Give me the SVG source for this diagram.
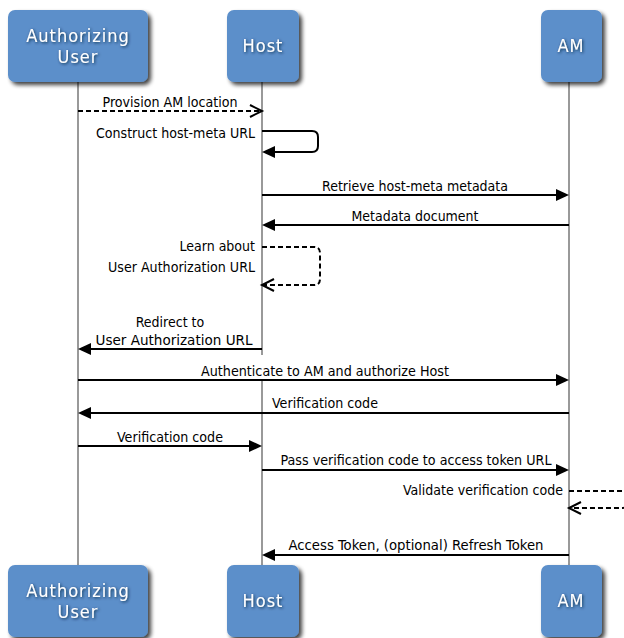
<svg xmlns="http://www.w3.org/2000/svg" width="624" height="638" viewBox="0 0 624 638">
<defs>
<style>
.box{fill:#5b8fca;filter:url(#boxShadow)}
.bt{fill:#ffffff;font-family:"DejaVu Sans Condensed","DejaVu Sans",sans-serif;font-size:18px;letter-spacing:1px;text-anchor:middle;filter:url(#textShadow)}
.life{stroke:#999999;stroke-width:2;fill:none}
.msg{stroke:#000000;stroke-width:2;fill:none}
.dash{stroke-dasharray:5,3}
.lbl{fill:#000000;font-family:"DejaVu Sans Condensed","DejaVu Sans",sans-serif;font-size:14px}
.mid{text-anchor:middle}
.end{text-anchor:end}
</style>
<filter id="boxShadow" x="-20%" y="-20%" width="150%" height="150%">
<feGaussianBlur in="SourceAlpha" stdDeviation="2" result="bl"/>
<feOffset in="bl" dx="3" dy="3" result="of"/>
<feComponentTransfer in="of" result="sh"><feFuncA type="linear" slope="0.75"/></feComponentTransfer>
<feMerge><feMergeNode in="sh"/><feMergeNode in="SourceGraphic"/></feMerge>
</filter>
<filter id="textShadow" x="-20%" y="-40%" width="140%" height="180%">
<feGaussianBlur in="SourceAlpha" stdDeviation="1.5" result="bl"/>
<feOffset in="bl" dx="1" dy="1" result="of"/>
<feFlood flood-color="#0d2540" flood-opacity="0.9" result="fc"/>
<feComposite in="fc" in2="of" operator="in" result="sh"/>
<feMerge><feMergeNode in="sh"/><feMergeNode in="SourceGraphic"/></feMerge>
</filter>
<marker id="fillArrow" markerUnits="userSpaceOnUse" markerWidth="14" markerHeight="14" refX="9" refY="6" orient="auto" overflow="visible">
<path d="M0,0 L13,6 L0,12 Z" fill="#000000" stroke="none"/>
</marker>
<marker id="openArrow" markerUnits="userSpaceOnUse" markerWidth="16" markerHeight="16" refX="13" refY="7" orient="auto" overflow="visible">
<path d="M1,1 L13,7 L1,13" fill="none" stroke="#000000" stroke-width="2" stroke-dasharray="none"/>
</marker>
</defs>
<rect width="624" height="638" fill="#ffffff"/>

<g id="lifelines">
<line class="life" x1="78" y1="82" x2="78" y2="565"/>
<line class="life" x1="262" y1="82" x2="262" y2="355"/>
<line class="life" x1="262" y1="381" x2="262" y2="565"/>
<line class="life" x1="569" y1="82" x2="569" y2="565"/>
</g>

<g id="user-top">
<rect class="box" x="8" y="10" width="140" height="72" rx="7"/>
<text class="bt" x="78" y="42">Authorizing</text>
<text class="bt" x="78" y="63">User</text>
</g>
<g id="host-top">
<rect class="box" x="227" y="10" width="72" height="72" rx="7"/>
<text class="bt" x="263" y="52">Host</text>
</g>
<g id="am-top">
<rect class="box" x="541" y="10" width="61" height="72" rx="7"/>
<text class="bt" x="571" y="52">AM</text>
</g>
<g id="user-bottom">
<rect class="box" x="8" y="565" width="140" height="72" rx="7"/>
<text class="bt" x="78" y="597">Authorizing</text>
<text class="bt" x="78" y="618">User</text>
</g>
<g id="host-bottom">
<rect class="box" x="227" y="565" width="72" height="72" rx="7"/>
<text class="bt" x="263" y="607">Host</text>
</g>
<g id="am-bottom">
<rect class="box" x="541" y="565" width="61" height="72" rx="7"/>
<text class="bt" x="571" y="607">AM</text>
</g>

<g id="connectors">
<line class="msg dash" x1="78" y1="111" x2="262" y2="111" marker-end="url(#openArrow)"/>
<path class="msg" d="M262,131 H312 Q318,131 318,137 V146 Q318,152 312,152 H266" marker-end="url(#fillArrow)"/>
<line class="msg" x1="262" y1="195" x2="565" y2="195" marker-end="url(#fillArrow)"/>
<line class="msg" x1="569" y1="225" x2="266" y2="225" marker-end="url(#fillArrow)"/>
<path class="msg dash" d="M262,247 H314 Q320,247 320,253 V279 Q320,285 314,285 H262" marker-end="url(#openArrow)"/>
<line class="msg" x1="262" y1="349" x2="82" y2="349" marker-end="url(#fillArrow)"/>
<line class="msg" x1="78" y1="380" x2="565" y2="380" marker-end="url(#fillArrow)"/>
<line class="msg" x1="569" y1="413" x2="82" y2="413" marker-end="url(#fillArrow)"/>
<line class="msg" x1="78" y1="446" x2="258" y2="446" marker-end="url(#fillArrow)"/>
<line class="msg" x1="262" y1="470" x2="565" y2="470" marker-end="url(#fillArrow)"/>
<path class="msg dash" d="M569,491 H622 Q628,491 628,497 V502 Q628,508 622,508 H569" marker-end="url(#openArrow)"/>
<line class="msg" x1="569" y1="555" x2="266" y2="555" marker-end="url(#fillArrow)"/>
</g>

<g id="labels">
<text class="lbl mid" x="170" y="107" textLength="135" lengthAdjust="spacingAndGlyphs">Provision AM location</text>
<text class="lbl end" x="255" y="138" textLength="159" lengthAdjust="spacingAndGlyphs">Construct host-meta URL</text>
<text class="lbl mid" x="415" y="191" textLength="186" lengthAdjust="spacingAndGlyphs">Retrieve host-meta metadata</text>
<text class="lbl mid" x="415" y="221" textLength="127" lengthAdjust="spacingAndGlyphs">Metadata document</text>
<text class="lbl end" x="255" y="251">Learn about</text>
<text class="lbl end" x="255" y="272" textLength="147" lengthAdjust="spacingAndGlyphs">User Authorization URL</text>
<text class="lbl mid" x="170" y="327">Redirect to</text>
<text class="lbl mid" x="174" y="345" textLength="157" lengthAdjust="spacingAndGlyphs">User Authorization URL</text>
<text class="lbl mid" x="325" y="376" textLength="248" lengthAdjust="spacingAndGlyphs">Authenticate to AM and authorize Host</text>
<text class="lbl mid" x="325" y="408" textLength="106" lengthAdjust="spacingAndGlyphs">Verification code</text>
<text class="lbl mid" x="170" y="442" textLength="106" lengthAdjust="spacingAndGlyphs">Verification code</text>
<text class="lbl mid" x="416" y="465" textLength="271" lengthAdjust="spacingAndGlyphs">Pass verification code to access token URL</text>
<text class="lbl end" x="563" y="495" textLength="160" lengthAdjust="spacingAndGlyphs">Validate verification code</text>
<text class="lbl mid" x="416" y="550" textLength="255" lengthAdjust="spacingAndGlyphs">Access Token, (optional) Refresh Token</text>
</g>
</svg>
